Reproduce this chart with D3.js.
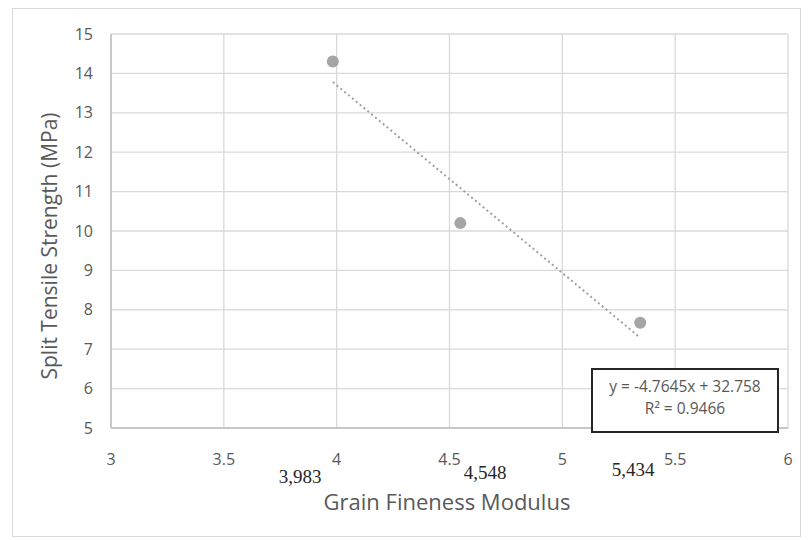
<!DOCTYPE html>
<html>
<head>
<meta charset="utf-8">
<script src="https://cdn.jsdelivr.net/npm/d3@7"></script>
<style>
  body { margin: 0; background: #fff; }
  svg text { font-family: "Open Sans", Lato, sans-serif; }
</style>
</head>
<body>
<div id="chart"></div>
<script>
// data
var gfm = [3.983, 4.548, 5.345],
    strength = [14.3, 10.2, 7.67],
    pointLabels = ["3,983", "4,548", "5,434"],
    xTicks = [3, 3.5, 4, 4.5, 5, 5.5, 6],
    yTicks = [5, 6, 7, 8, 9, 10, 11, 12, 13, 14, 15],
    trend = {slope: -4.7645, intercept: 32.758},
    eqLines = ["y = -4.7645x + 32.758", "R² = 0.9466"];

var w = 809, h = 540,
    margin = {top: 34, right: 20, bottom: 112, left: 111};

var svg = d3.select("#chart").append("svg")
    .attr("width", w)
    .attr("height", h);

// outer chart frame
svg.append("rect")
    .attr("x", 12.5).attr("y", 8.5)
    .attr("width", 788).attr("height", 528)
    .attr("fill", "white")
    .attr("stroke", "#d9d9d9");

var x = d3.scaleLinear().domain([3, 6]).range([margin.left, w - margin.right - 1]),
    y = d3.scaleLinear().domain([5, 15]).range([h - margin.bottom, margin.top]);

var g = svg.append("g");

// grid
g.selectAll(".hgrid").data(yTicks).enter().append("line")
    .attr("class", "hgrid")
    .attr("x1", x(3)).attr("x2", x(6))
    .attr("y1", function(d) { return y(d); })
    .attr("y2", function(d) { return y(d); })
    .attr("stroke", "#d9d9d9").attr("stroke-width", 1.3);

g.selectAll(".vgrid").data(xTicks).enter().append("line")
    .attr("class", "vgrid")
    .attr("y1", y(5)).attr("y2", y(15))
    .attr("x1", function(d) { return x(d); })
    .attr("x2", function(d) { return x(d); })
    .attr("stroke", "#d9d9d9").attr("stroke-width", 1.3);

// axis lines
g.append("line").attr("x1", x(3)).attr("x2", x(6)).attr("y1", y(5)).attr("y2", y(5))
    .attr("stroke", "#bfbfbf").attr("stroke-width", 1.5);
g.append("line").attr("x1", x(3)).attr("x2", x(3)).attr("y1", y(5)).attr("y2", y(15))
    .attr("stroke", "#bfbfbf").attr("stroke-width", 1.5);

// tick labels
g.selectAll(".ylab").data(yTicks).enter().append("text")
    .attr("x", 93)
    .attr("y", function(d) { return y(d); })
    .attr("dy", "0.35em")
    .attr("text-anchor", "end")
    .attr("font-size", 16)
    .attr("fill", "#595959")
    .text(function(d) { return d; });

g.selectAll(".xlab").data(xTicks).enter().append("text")
    .attr("x", function(d) { return x(d); })
    .attr("y", 459)
    .attr("dy", "0.35em")
    .attr("text-anchor", "middle")
    .attr("font-size", 16)
    .attr("fill", "#595959")
    .text(function(d) { return d; });

// axis titles
svg.append("text")
    .attr("x", 447).attr("y", 502)
    .attr("dy", "0.35em")
    .attr("text-anchor", "middle")
    .attr("font-size", 22)
    .attr("fill", "#595959")
    .text("Grain Fineness Modulus");

svg.append("text")
    .attr("transform", "translate(50,246) rotate(-90)")
    .attr("dy", "0.35em")
    .attr("text-anchor", "middle")
    .attr("font-size", 21)
    .attr("fill", "#595959")
    .text("Split Tensile Strength (MPa)");

// trend line
var x0 = d3.min(gfm), x1 = d3.max(gfm);
g.append("line")
    .attr("x1", x(x0)).attr("y1", y(trend.slope * x0 + trend.intercept))
    .attr("x2", x(x1)).attr("y2", y(trend.slope * x1 + trend.intercept))
    .attr("stroke", "#a0a0a0")
    .attr("stroke-width", 2)
    .attr("stroke-dasharray", "2,3");

// points
g.selectAll(".pt").data(gfm).enter().append("circle")
    .attr("cx", function(d) { return x(d); })
    .attr("cy", function(d, i) { return y(strength[i]); })
    .attr("r", 6)
    .attr("fill", "#a5a5a5");

// manual value labels under the axis
var labPos = [[300, 476], [485, 472], [633, 469]];
g.selectAll(".plab").data(pointLabels).enter().append("text")
    .attr("x", function(d, i) { return labPos[i][0]; })
    .attr("y", function(d, i) { return labPos[i][1]; })
    .attr("dy", "0.35em")
    .attr("text-anchor", "middle")
    .style("font-family", "'Liberation Serif', serif")
    .attr("font-size", 19)
    .attr("fill", "#262626")
    .text(function(d) { return d; });

// equation box
svg.append("rect")
    .attr("x", 592).attr("y", 369)
    .attr("width", 186).attr("height", 63)
    .attr("fill", "white")
    .attr("stroke", "#262626")
    .attr("stroke-width", 2);

svg.selectAll(".eq").data(eqLines).enter().append("text")
    .attr("x", 685)
    .attr("y", function(d, i) { return 387 + i * 22; })
    .attr("dy", "0.35em")
    .attr("text-anchor", "middle")
    .attr("font-size", 15.5)
    .attr("fill", "#595959")
    .text(function(d) { return d; });
</script>
</body>
</html>
